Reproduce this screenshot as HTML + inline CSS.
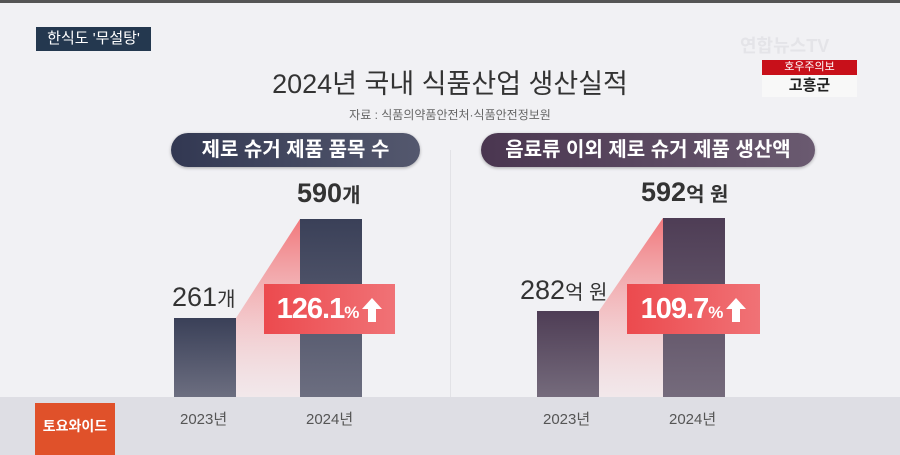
<!DOCTYPE html>
<html><head><meta charset="utf-8"><style>
body{margin:0;width:900px;height:455px;overflow:hidden;background:#f1f1f4;font-family:"Liberation Sans","Noto Sans CJK KR",sans-serif;position:relative}
.a{position:absolute}
.bar1{background:linear-gradient(#3a4058,#6c6e80)}
.bar2{background:linear-gradient(#4e3d55,#756b7c)}
.pill{border-radius:17px;color:#fff;font-size:20px;font-weight:bold;text-align:center;line-height:34px;height:34px;box-shadow:0 1px 3px rgba(0,0,0,.3);white-space:nowrap}
.badge{background:linear-gradient(90deg,#ec4a4e,#f07276);color:#fff;font-weight:bold;font-size:29px;line-height:50px;text-align:center;white-space:nowrap;letter-spacing:-1px}
.yr{font-size:15px;color:#555;top:408px}
.val{font-size:27px;color:#333;white-space:nowrap}
.arr{display:inline-block;vertical-align:middle;margin-left:4px}
</style></head><body>
<div class="a" style="left:0;top:0;width:900px;height:3px;background:#555"></div>
<div class="a" style="left:0;top:397px;width:900px;height:58px;background:#dedee4"></div>
<div class="a" style="left:450px;top:150px;width:1px;height:247px;background:#e2e2e6"></div>
<div class="a" style="left:36px;top:27px;width:115px;height:24px;background:#24384f;color:#fff;font-size:15px;line-height:24px;text-align:center">한식도 '무설탕'</div>
<div class="a" style="left:740px;top:32px;font-size:18px;color:#e4e4e8;font-weight:bold">연합뉴스TV</div>
<div class="a" style="left:762px;top:60px;width:95px;height:15px;background:#c8101a;color:#fff;font-size:11px;line-height:15px;text-align:center">호우주의보</div>
<div class="a" style="left:762px;top:75px;width:95px;height:22px;background:#f8f8f8;color:#222;font-size:15px;font-weight:bold;line-height:22px;text-align:center">고흥군</div>
<div class="a" style="left:0;width:900px;top:62px;text-align:center;font-size:27px;color:#333">2024년 국내 식품산업 생산실적</div>
<div class="a" style="left:0;width:900px;top:106px;text-align:center;font-size:12px;color:#666">자료 : 식품의약품안전처·식품안전정보원</div>
<div class="a pill" style="left:171px;top:133px;width:249px;background:linear-gradient(90deg,#323852,#54586e)">제로 슈거 제품 품목 수</div>
<div class="a pill" style="left:481px;top:133px;width:334px;background:linear-gradient(90deg,#4a3650,#6a5a70)">음료류 이외 제로 슈거 제품 생산액</div>
<svg class="a" style="left:0;top:0" width="900" height="455">
<defs><linearGradient id="g" x1="0" y1="0" x2="0" y2="1"><stop offset="0" stop-color="#f26a6e" stop-opacity=".9"/><stop offset="1" stop-color="#f6c4c6" stop-opacity=".2"/></linearGradient></defs>
<polygon points="236,318 300,219 300,397 236,397" fill="url(#g)"/>
<polygon points="599,311 663,218 663,397 599,397" fill="url(#g)"/>
</svg>
<div class="a bar1" style="left:174px;top:318px;width:62px;height:79px"></div>
<div class="a bar1" style="left:300px;top:219px;width:62px;height:178px"></div>
<div class="a bar2" style="left:537px;top:311px;width:62px;height:86px"></div>
<div class="a bar2" style="left:663px;top:218px;width:62px;height:179px"></div>
<div class="a val" style="left:172px;top:282px">261<span style="font-size:20px">개</span></div>
<div class="a val" style="left:297px;top:178px;font-weight:bold">590<span style="font-size:20px">개</span></div>
<div class="a val" style="left:520px;top:275px">282<span style="font-size:20px">억 원</span></div>
<div class="a val" style="left:641px;top:177px;font-weight:bold">592<span style="font-size:20px">억 원</span></div>
<div class="a badge" style="left:264px;top:284px;width:131px;height:50px">126.1<span style="font-size:17px">%</span><svg class="arr" width="20" height="24" viewBox="0 0 20 24"><polygon points="10,0 20,11 14,11 14,24 6,24 6,11 0,11" fill="#fff"/></svg></div>
<div class="a badge" style="left:627px;top:284px;width:133px;height:50px">109.7<span style="font-size:17px">%</span><svg class="arr" width="20" height="24" viewBox="0 0 20 24"><polygon points="10,0 20,11 14,11 14,24 6,24 6,11 0,11" fill="#fff"/></svg></div>
<div class="a yr" style="left:180px">2023년</div>
<div class="a yr" style="left:306px">2024년</div>
<div class="a yr" style="left:543px">2023년</div>
<div class="a yr" style="left:669px">2024년</div>
<div class="a" style="left:35px;top:403px;width:80px;height:52px;background:#e0512a;color:#fff;font-size:14px;font-weight:bold;text-align:center;line-height:46px">토요와이드</div>
</body></html>
